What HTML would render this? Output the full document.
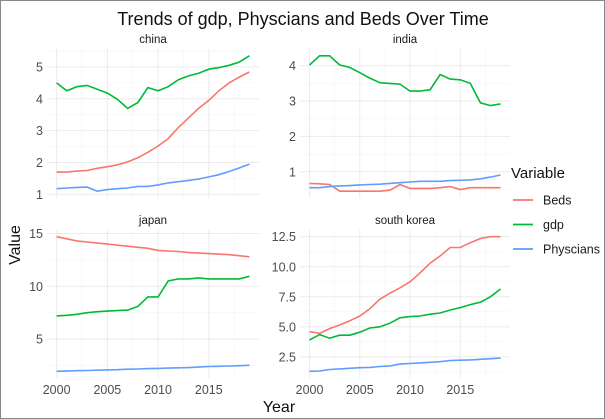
<!DOCTYPE html>
<html><head><meta charset="utf-8"><style>
html,body{margin:0;padding:0;background:#fff}
#wrap{position:relative;width:605px;height:419px;box-sizing:border-box;border:1px solid #888;overflow:hidden}
svg{position:absolute;left:0;top:0;font-family:"Liberation Sans",sans-serif}
</style></head><body>
<div id="wrap">
<svg id="chart" width="605" height="419">
<text x="302" y="24" font-size="18" text-anchor="middle" fill="#111">Trends of gdp, Physcians and Beds Over Time</text>
<text x="278" y="411" font-size="16" text-anchor="middle" fill="#111">Year</text>
<text transform="translate(19,244) rotate(-90)" font-size="16" text-anchor="middle" fill="#111">Value</text>
<text x="510" y="177" font-size="15" fill="#111">Variable</text>
</svg>
</div>
<script>
const years = [2000,2001,2002,2003,2004,2005,2006,2007,2008,2009,2010,2011,2012,2013,2014,2015,2016,2017,2018,2019];
const variables = ["Beds","gdp","Physcians"];
const colors = ["#F8766D","#00BA38","#619CFF"];
const chinaBeds = [1.7,1.7,1.73,1.75,1.82,1.87,1.93,2.02,2.15,2.32,2.52,2.75,3.1,3.4,3.7,3.95,4.25,4.5,4.68,4.84];
const chinaGdp = [4.5,4.25,4.38,4.42,4.3,4.18,3.98,3.7,3.88,4.35,4.25,4.38,4.6,4.72,4.8,4.93,4.98,5.05,5.15,5.35];
const chinaPhys = [1.18,1.2,1.22,1.23,1.1,1.15,1.18,1.2,1.25,1.25,1.3,1.36,1.4,1.44,1.48,1.55,1.62,1.72,1.83,1.95];
const indiaBeds = [0.67,0.66,0.64,0.45,0.45,0.45,0.45,0.45,0.48,0.64,0.53,0.53,0.53,0.55,0.58,0.5,0.55,0.55,0.55,0.55];
const indiaGdp = [4.02,4.28,4.28,4.02,3.95,3.8,3.65,3.52,3.5,3.48,3.28,3.28,3.32,3.75,3.62,3.6,3.5,2.95,2.87,2.92];
const indiaPhys = [0.55,0.55,0.58,0.6,0.61,0.63,0.64,0.65,0.67,0.69,0.71,0.73,0.73,0.73,0.75,0.76,0.77,0.8,0.85,0.91];
const japanBeds = [14.7,14.5,14.3,14.2,14.1,14.0,13.9,13.8,13.7,13.6,13.4,13.35,13.3,13.2,13.15,13.1,13.05,13.0,12.9,12.8];
const japanGdp = [7.2,7.25,7.35,7.5,7.6,7.65,7.7,7.75,8.1,9.0,9.0,10.5,10.7,10.7,10.8,10.7,10.7,10.7,10.7,10.95];
const japanPhys = [1.95,1.97,2.0,2.02,2.05,2.08,2.1,2.15,2.17,2.2,2.22,2.25,2.28,2.3,2.35,2.4,2.42,2.45,2.48,2.52];
const koreaBeds = [4.6,4.45,4.85,5.15,5.5,5.9,6.5,7.3,7.8,8.25,8.75,9.5,10.3,10.9,11.6,11.6,12.0,12.35,12.5,12.5];
const koreaGdp = [3.9,4.35,4.05,4.3,4.3,4.55,4.9,5.0,5.3,5.75,5.85,5.9,6.05,6.15,6.4,6.6,6.85,7.05,7.5,8.15];
const koreaPhys = [1.3,1.32,1.45,1.5,1.55,1.6,1.62,1.7,1.75,1.9,1.95,2.0,2.05,2.1,2.2,2.22,2.25,2.3,2.35,2.4];
const xTicks = [2000,2005,2010,2015];
const chinaTicks = ["1","2","3","4","5"];
const indiaTicks = ["1","2","3","4"];
const japanTicks = ["5","10","15"];
const koreaTicks = ["2.5","5.0","7.5","10.0","12.5"];
const countries = ["china","india","japan","south korea"];

const NS="http://www.w3.org/2000/svg";
const svg=document.getElementById('chart');
function el(t,a){const e=document.createElementNS(NS,t);for(const k in a)e.setAttribute(k,a[k]);svg.appendChild(e);return e;}

const panels=[
 {name:countries[0],series:[chinaBeds,chinaGdp,chinaPhys],ticks:chinaTicks,x0:46,x1:258,y0:48,y1:197,showX:false},
 {name:countries[1],series:[indiaBeds,indiaGdp,indiaPhys],ticks:indiaTicks,x0:299,x1:509,y0:48,y1:197,showX:false},
 {name:countries[2],series:[japanBeds,japanGdp,japanPhys],ticks:japanTicks,x0:46,x1:258,y0:229,y1:377,showX:true},
 {name:countries[3],series:[koreaBeds,koreaGdp,koreaPhys],ticks:koreaTicks,x0:299,x1:509,y0:229,y1:377,showX:true}
];
panels.forEach(p=>{
  const all=[].concat(...p.series);
  let mn=Math.min(...all),mx=Math.max(...all),pad=(mx-mn)*0.05;mn-=pad;mx+=pad;
  const xa=years[0],xb=years[years.length-1],xp=(xb-xa)*0.05;
  const X=v=>p.x0+(v-(xa-xp))/((xb+xp)-(xa-xp))*(p.x1-p.x0);
  const Y=v=>p.y1-(v-mn)/(mx-mn)*(p.y1-p.y0);
  const slug=p.name.replace(' ','-');
  const tv=p.ticks.map(Number);const step=tv.length>1?tv[1]-tv[0]:1;
  for(let v=tv[0]-step/2;v<=mx;v+=step/2){if(v<mn)continue;const major=tv.some(t=>Math.abs(t-v)<1e-9);
    const g=el('line',{x1:p.x0,x2:p.x1,y1:Y(v),y2:Y(v),stroke:major?'#ebebeb':'#f4f4f4','stroke-width':major?1:0.6});
    }
  for(let v=1997.5;v<=2020;v+=2.5){if(v<xa-xp||v>xb+xp)continue;const major=v%5===0;
    const g=el('line',{x1:X(v),x2:X(v),y1:p.y0,y2:p.y1,stroke:major?'#ebebeb':'#f4f4f4','stroke-width':major?1:0.6});
    }
  p.ticks.forEach(t=>{const e=el('text',{x:p.x0-4,y:Y(Number(t))+4.5,'font-size':12.5,'text-anchor':'end',fill:'#4d4d4d'});e.textContent=t;
    });
  if(p.showX)xTicks.forEach(t=>{const e=el('text',{x:X(t),y:393,'font-size':12.5,'text-anchor':'middle',fill:'#4d4d4d'});e.textContent=t;
    });
  const st=el('text',{x:(p.x0+p.x1)/2,y:p.y0-6,'font-size':11.5,'text-anchor':'middle',fill:'#1a1a1a'});st.textContent=p.name;
  
  p.series.forEach((s,i)=>{
    const d=s.map((v,j)=>(j?'L':'M')+X(years[j]).toFixed(1)+','+Y(v).toFixed(1)).join('');
    const l=el('path',{d:d,fill:'none',stroke:colors[i],'stroke-width':1.6});
    
    
  });
});
variables.forEach((v,i)=>{
  const y=199+i*24.5;
  const k=el('line',{x1:512,x2:532,y1:y,y2:y,stroke:colors[i],'stroke-width':1.8});
  
  
  const t=el('text',{x:542,y:y+4.5,'font-size':12.5,fill:'#1a1a1a'});t.textContent=v;
  
  
});
</script>
</body></html>
